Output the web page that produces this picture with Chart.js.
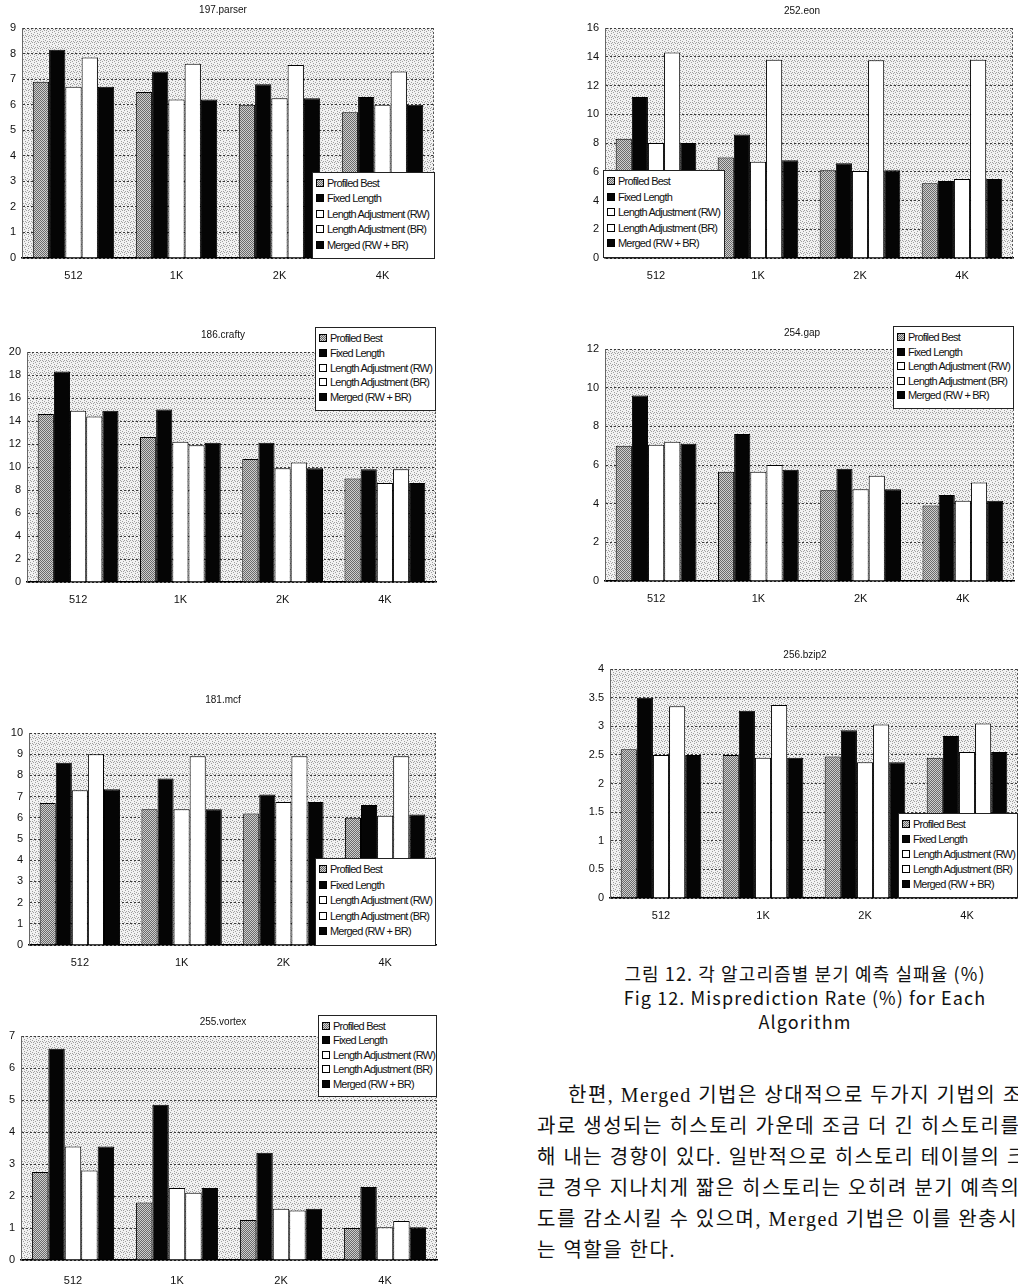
<!DOCTYPE html>
<html><head><meta charset="utf-8">
<script src="https://cdn.jsdelivr.net/npm/chart.js@4.4.0/dist/chart.umd.min.js"></script>
<style>
html,body{margin:0;padding:0;background:#fff;width:1018px;height:1288px;overflow:hidden;position:relative}
canvas.cv{position:absolute}
.lg{position:absolute;background:#fff;border:1px solid #222;box-sizing:border-box;font-family:"Liberation Sans",Arial,sans-serif;font-size:11px;letter-spacing:-0.8px;color:#111}
.lg div{position:absolute;left:3px;white-space:nowrap;line-height:12px;height:12px}
.sw{display:inline-block;width:6px;height:6px;border:1px solid #000;margin-right:3px;vertical-align:0px}
.cap{position:absolute;left:540px;width:530px;text-align:center;font-family:"Noto Sans CJK KR","Liberation Sans",sans-serif;font-size:18px;letter-spacing:1.1px;line-height:24px;color:#111}
.para{position:absolute;white-space:nowrap;font-family:"Liberation Serif","Noto Sans CJK KR",serif;font-size:20px;letter-spacing:1.5px;line-height:24px;color:#111}
</style></head><body>
<script>
// ---------- data ----------
const categories = ["512", "1K", "2K", "4K"];
const seriesNames = ["Profiled Best", "Fixed Length", "Length Adjustment (RW)", "Length Adjustment (BR)", "Merged (RW + BR)"];

const parserProfiled = [6.9, 6.5, 6.0, 5.7];
const parserFixed    = [8.15, 7.3, 6.8, 6.3];
const parserRW       = [6.7, 6.2, 6.25, 6.0];
const parserBR       = [7.85, 7.6, 7.55, 7.3];
const parserMerged   = [6.7, 6.2, 6.25, 6.0];

const eonProfiled = [8.3, 7.0, 6.1, 5.2];
const eonFixed    = [11.2, 8.6, 6.6, 5.35];
const eonRW       = [8.0, 6.7, 6.05, 5.5];
const eonBR       = [14.3, 13.8, 13.75, 13.8];
const eonMerged   = [8.0, 6.8, 6.1, 5.5];

const craftyProfiled = [14.6, 12.6, 10.7, 9.0];
const craftyFixed    = [18.3, 15.0, 12.1, 9.8];
const craftyRW       = [14.9, 12.2, 9.9, 8.6];
const craftyBR       = [14.4, 11.9, 10.4, 9.8];
const craftyMerged   = [14.9, 12.1, 9.9, 8.6];

const gapProfiled = [7.0, 5.65, 4.7, 3.9];
const gapFixed    = [9.6, 7.6, 5.8, 4.45];
const gapRW       = [7.05, 5.65, 4.75, 4.15];
const gapBR       = [7.2, 6.0, 5.45, 5.1];
const gapMerged   = [7.1, 5.75, 4.75, 4.15];

const mcfProfiled = [6.7, 6.4, 6.2, 6.0];
const mcfFixed    = [8.6, 7.85, 7.1, 6.6];
const mcfRW       = [7.3, 6.4, 6.75, 6.1];
const mcfBR       = [9.0, 8.9, 8.9, 8.9];
const mcfMerged   = [7.35, 6.4, 6.75, 6.15];

const bzipProfiled = [2.6, 2.5, 2.47, 2.45];
const bzipFixed    = [3.5, 3.27, 2.93, 2.83];
const bzipRW       = [2.5, 2.45, 2.37, 2.55];
const bzipBR       = [3.35, 3.37, 3.03, 3.05];
const bzipMerged   = [2.5, 2.45, 2.37, 2.55];

const vortexProfiled = [2.75, 1.8, 1.25, 1.0];
const vortexFixed    = [6.6, 4.85, 3.35, 2.28];
const vortexRW       = [3.55, 2.25, 1.6, 1.02];
const vortexBR       = [2.8, 2.1, 1.55, 1.22];
const vortexMerged   = [3.55, 2.25, 1.6, 1.02];

const benchTitles = ["197.parser", "252.eon", "186.crafty", "254.gap", "181.mcf", "256.bzip2", "255.vortex"];
const yMaxValues  = [9, 16, 20, 12, 10, 4, 7];
const yStepValues = [1, 2, 2, 2, 1, 0.5, 1];

// ---------- layout (page pixels) ----------
const layouts = [
  {L:22,  R:434,  T:28,   B:258,  tx:223, ty:10,   xh:30, lg:[312,172,123,87]},
  {L:605, R:1013, T:28,   B:258,  tx:802, ty:11,   xh:30, lg:[603,170,122,88]},
  {L:27,  R:436,  T:352,  B:582,  tx:223, ty:335,  xh:30, lg:[315,327,121,84]},
  {L:605, R:1014, T:349,  B:581,  tx:802, ty:333,  xh:30, lg:[893,326,121,83]},
  {L:29,  R:436,  T:733,  B:945,  tx:223, ty:700,  xh:30, lg:[315,858,121,88]},
  {L:610, R:1018, T:669,  B:898,  tx:805, ty:655,  xh:30, lg:[898,813,120,85]},
  {L:21,  R:437,  T:1036, B:1260, tx:223, ty:1022, xh:28, lg:[318,1015,119,82]}
];

const benchSeries = [
  [parserProfiled, parserFixed, parserRW, parserBR, parserMerged],
  [eonProfiled, eonFixed, eonRW, eonBR, eonMerged],
  [craftyProfiled, craftyFixed, craftyRW, craftyBR, craftyMerged],
  [gapProfiled, gapFixed, gapRW, gapBR, gapMerged],
  [mcfProfiled, mcfFixed, mcfRW, mcfBR, mcfMerged],
  [bzipProfiled, bzipFixed, bzipRW, bzipBR, bzipMerged],
  [vortexProfiled, vortexFixed, vortexRW, vortexBR, vortexMerged]
];

// ---------- patterns ----------
function tile(size, draw) {
  const c = document.createElement('canvas'); c.width = c.height = size;
  const g = c.getContext('2d'); draw(g); return c;
}
const bgTile = tile(6, g => {
  g.fillStyle = '#f2f2f2'; g.fillRect(0,0,6,6);
  g.fillStyle = '#a0a0a0';
  [[0,0],[3,1],[5,2],[1,3],[4,4],[2,5],[0,4],[3,3]].forEach(p => g.fillRect(p[0],p[1],1,1));
});
const pbTile = tile(2, g => {
  g.fillStyle = '#cfcfcf'; g.fillRect(0,0,2,2);
  g.fillStyle = '#6a6a6a'; g.fillRect(0,0,1,1); g.fillRect(1,1,1,1);
});
const tmpCtx = document.createElement('canvas').getContext('2d');
const bgPattern = tmpCtx.createPattern(bgTile, 'repeat');
const pbPattern = tmpCtx.createPattern(pbTile, 'repeat');
const fills = [pbPattern, '#050505', '#ffffff', '#ffffff', '#050505'];
const swatchCss = ['url(' + pbTile.toDataURL() + ')', '#050505', '#fff', '#fff', '#050505'];

const areaPlugin = {
  id: 'area',
  beforeDraw(chart) {
    const a = chart.chartArea, ctx = chart.ctx;
    ctx.save(); ctx.fillStyle = bgPattern; ctx.fillRect(a.left, a.top, a.right - a.left, a.bottom - a.top); ctx.restore();
  },
  afterDraw(chart) {
    const a = chart.chartArea, ctx = chart.ctx;
    ctx.save(); ctx.strokeStyle = '#555'; ctx.lineWidth = 1; ctx.setLineDash([2,2]);
    ctx.beginPath(); ctx.moveTo(a.right - 0.5, a.top); ctx.lineTo(a.right - 0.5, a.bottom); ctx.stroke();
    ctx.restore();
  }
};

const tickFont = {family: '"Liberation Sans", Arial, sans-serif', size: 11};

function makeChart(i) {
  const lay = layouts[i];
  const padR = 1;
  const yW = 30;
  // extra right space so the full-width title is centred where the reference has it
  const extraR = Math.max(0, yW - (lay.L + lay.R - 2 * lay.tx));
  const cLeft = lay.L - yW;
  const cTop = lay.ty - 8;
  const w = lay.R + extraR + padR - cLeft;
  const h = lay.B + lay.xh - cTop;
  const c = document.createElement('canvas');
  c.className = 'cv';
  c.style.left = cLeft + 'px'; c.style.top = cTop + 'px';
  c.style.width = w + 'px'; c.style.height = h + 'px';
  c.width = w; c.height = h;
  document.body.appendChild(c);

  new Chart(c, {
    type: 'bar',
    data: {
      labels: categories,
      datasets: benchSeries[i].map((d, k) => ({
        label: seriesNames[k], data: d, yAxisID: 'y',
        backgroundColor: fills[k], borderColor: '#000', borderWidth: 1,
        categoryPercentage: 0.79, barPercentage: 1
      }))
    },
    options: {
      responsive: false, animation: false, devicePixelRatio: 1,
      layout: {padding: {left: 0, right: padR, top: 0, bottom: 0}},
      plugins: {
        legend: {display: false}, tooltip: {enabled: false},
        title: {display: true, text: benchTitles[i], color: '#111',
          font: {family: '"Liberation Sans", Arial, sans-serif', size: 10, weight: 'normal', lineHeight: 1.2},
          padding: {top: 2, bottom: lay.T - lay.ty - 6}}
      },
      scales: {
        x: {
          grid: {display: false, drawTicks: false},
          border: {display: true, color: '#000', width: 1.5},
          ticks: {font: tickFont, color: '#111', padding: lay.xh === 28 ? 14 : 11},
          afterFit(s) { s.height = lay.xh; }
        },
        y: {
          position: 'left', min: 0, max: yMaxValues[i],
          ticks: {stepSize: yStepValues[i], font: tickFont, color: '#111', padding: 6,
                  callback: v => String(v)},
          grid: {color: '#3a3a3a', lineWidth: 1, drawTicks: false},
          border: {display: true, color: '#666', width: 1, dash: [2, 2]},
          afterFit(s) { s.width = yW; }
        },
        yR: {
          position: 'right', display: true,
          grid: {display: false, drawTicks: false}, ticks: {display: false},
          border: {display: false},
          afterFit(s) { s.width = extraR; }
        }
      }
    },
    plugins: [areaPlugin]
  });

  // legend box (HTML)
  const [lx, ly, lw, lh] = lay.lg;
  const box = document.createElement('div');
  box.className = 'lg';
  box.style.left = lx + 'px'; box.style.top = ly + 'px';
  box.style.width = lw + 'px'; box.style.height = lh + 'px';
  const step = (lh - 10) / 5;
  seriesNames.forEach((n, k) => {
    const row = document.createElement('div');
    row.style.top = (4 + k * step) + 'px';
    const sw = document.createElement('span');
    sw.className = 'sw'; sw.style.background = swatchCss[k];
    row.appendChild(sw);
    row.appendChild(document.createTextNode(n));
    box.appendChild(row);
  });
  document.body.appendChild(box);
}

for (let i = 0; i < 7; i++) makeChart(i);

// ---------- caption & paragraph ----------
const captionLines = ["그림 12. 각 알고리즘별 분기 예측 실패율 (%)", "Fig 12. Misprediction Rate (%) for Each", "Algorithm"];
captionLines.forEach((t, k) => {
  const d = document.createElement('div'); d.className = 'cap';
  d.style.top = (961 + k * 24) + 'px'; d.textContent = t;
  document.body.appendChild(d);
});
const paraLines = [
  "한편, Merged 기법은 상대적으로 두가지 기법의 조",
  "과로 생성되는 히스토리 가운데 조금 더 긴 히스토리를",
  "해 내는 경향이 있다. 일반적으로 히스토리 테이블의 크",
  "큰 경우 지나치게 짧은 히스토리는 오히려 분기 예측의",
  "도를 감소시킬 수 있으며, Merged 기법은 이를 완충시",
  "는 역할을 한다."
];
paraLines.forEach((t, k) => {
  const d = document.createElement('div'); d.className = 'para';
  d.style.left = (k === 0 ? 568 : 537) + 'px';
  d.style.top = (1083 + k * 31) + 'px'; d.textContent = t;
  document.body.appendChild(d);
});
</script>
</body></html>
